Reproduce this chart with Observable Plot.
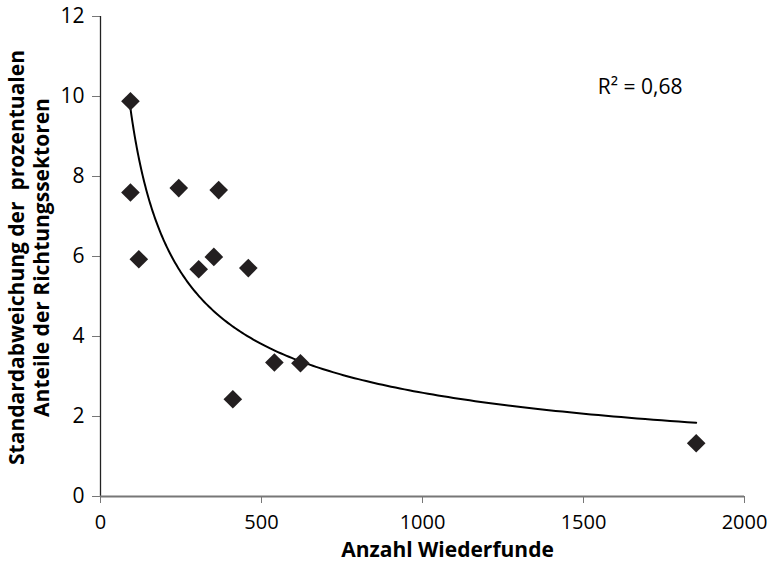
<!DOCTYPE html>
<html>
<head>
<meta charset="utf-8">
<script src="https://cdn.jsdelivr.net/npm/d3@7"></script>
<script src="https://cdn.jsdelivr.net/npm/@observablehq/plot@0.6"></script>
<style>
  html, body { margin: 0; padding: 0; background: #fff; }
</style>
</head>
<body>
<div id="chart"></div>
<script>
// Data
const wiederfunde = [93, 93, 119, 243, 305, 352, 367, 411, 459, 540, 621, 1850];
const standardabweichung = [9.88, 7.6, 5.93, 7.71, 5.68, 5.99, 7.66, 2.43, 5.71, 3.35, 3.33, 1.33];
const xTicks = [0, 500, 1000, 1500, 2000];
const yTicks = [0, 2, 4, 6, 8, 10, 12];
const xTitle = "Anzahl Wiederfunde";
const yTitle = "Standardabweichung der \u00a0prozentualen\nAnteile der Richtungssektoren";
const r2Label = "R² = 0,68";

const points = wiederfunde.map((x, i) => ({x, y: standardabweichung[i]}));

// Power trendline (least squares in log-log space, as a spreadsheet would)
const lx = wiederfunde.map(Math.log), ly = standardabweichung.map(Math.log);
const mx = d3.mean(lx), my = d3.mean(ly);
const b = d3.sum(lx, (v, i) => (v - mx) * (ly[i] - my)) / d3.sum(lx, v => (v - mx) ** 2);
const a = Math.exp(my - b * mx);
const [xmin, xmax] = d3.extent(wiederfunde);
const trend = d3.range(0, 201).map(i => {
  const x = xmin * Math.pow(xmax / xmin, i / 200);
  return {x, y: a * Math.pow(x, b)};
});

const chart = Plot.plot({
  width: 767,
  height: 567,
  marginLeft: 100,
  marginRight: 23,
  marginTop: 16,
  marginBottom: 71,
  style: {fontFamily: "'Open Sans', sans-serif", fontSize: "21px", color: "#000", background: "#fff"},
  x: {domain: [0, 2000]},
  y: {domain: [0, 12]},
  marks: [
    Plot.axisX({ticks: xTicks, tickFormat: d3.format("d"), tickSize: 7, tickPadding: 11, stroke: "#777", fill: "#000", label: null, fontSize: 20}),
    Plot.axisY({ticks: yTicks, tickSize: 8, tickPadding: 8, stroke: "#777", fill: "#000", label: null}),
    Plot.ruleX([0], {stroke: "#222", strokeWidth: 1.3}),
    Plot.ruleY([0], {stroke: "#777", strokeWidth: 2}),
    Plot.line(trend, {x: "x", y: "y", stroke: "#000", strokeWidth: 2}),
    Plot.dot(points, {x: "x", y: "y", symbol: "diamond2", r: 8.4, fill: "#231f20", stroke: "none"}),
    Plot.text([xTitle], {frameAnchor: "bottom", dx: 25, dy: 60, fontWeight: "bold", fontSize: 21, textAnchor: "middle"}),
    Plot.text([yTitle], {frameAnchor: "left", dx: -72.5, dy: 1, rotate: -90, fontWeight: "bold", fontSize: 21, lineHeight: 1.19, textAnchor: "middle"}),
    Plot.text([r2Label], {frameAnchor: "top-right", dx: -62, dy: 63, textAnchor: "end", fontSize: 21})
  ]
});
document.getElementById("chart").appendChild(chart);
</script>
</body>
</html>
